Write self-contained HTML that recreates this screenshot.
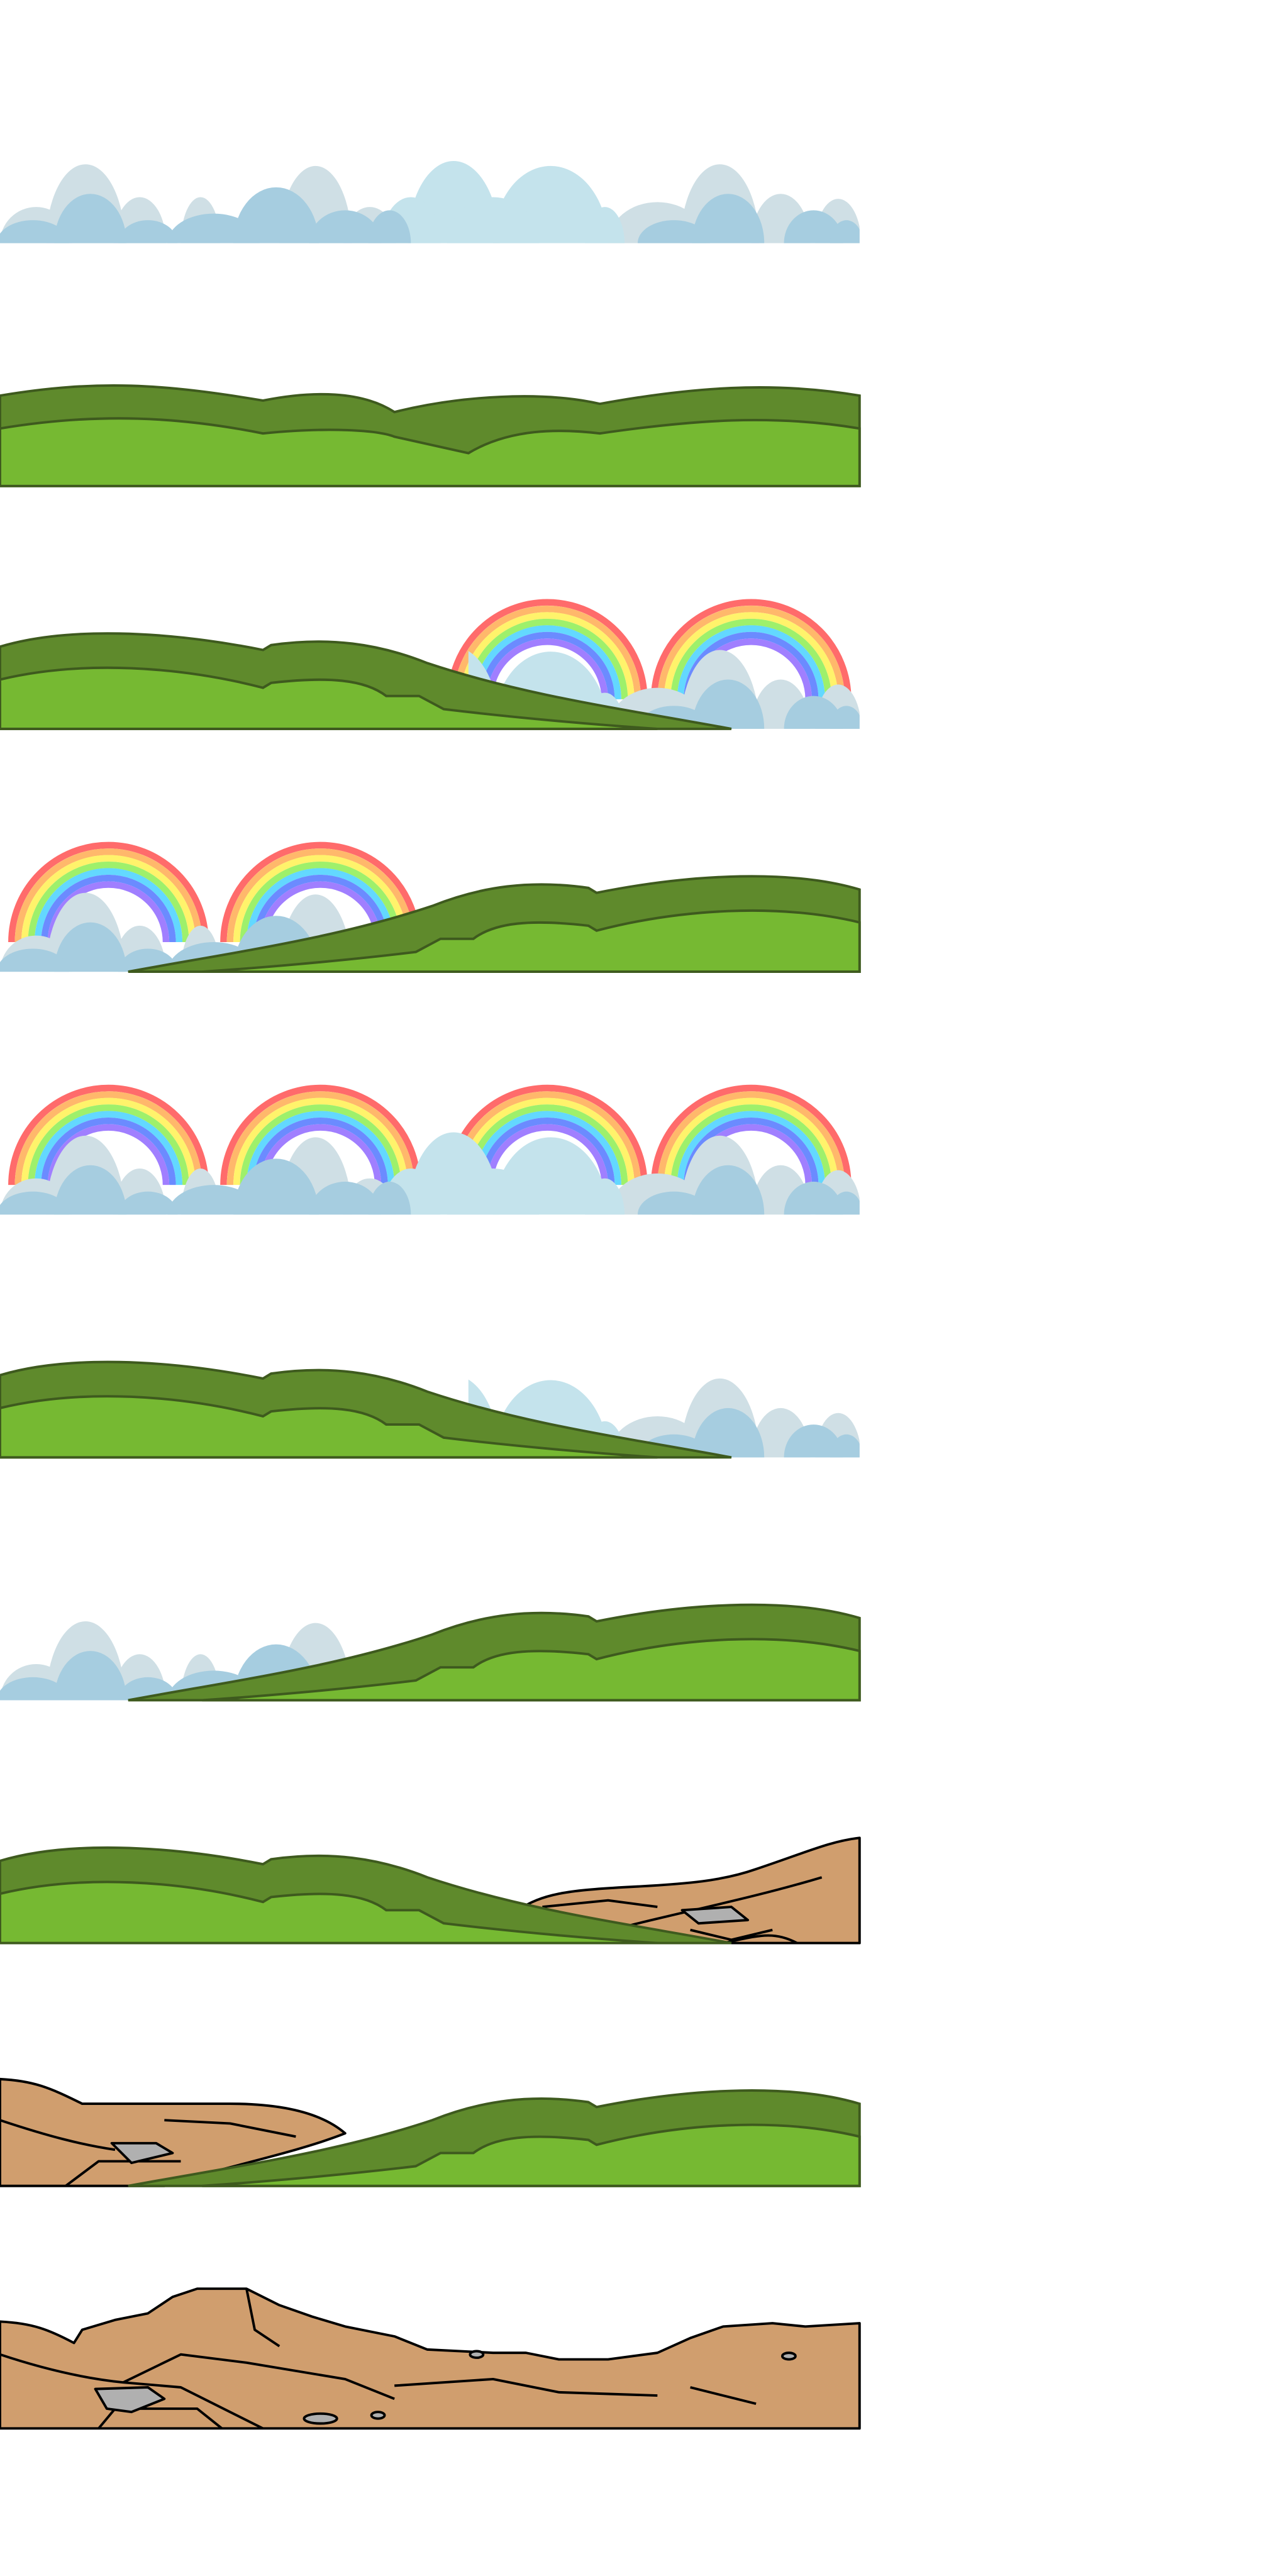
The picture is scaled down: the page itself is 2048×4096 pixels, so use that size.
<!DOCTYPE html>
<html><head><meta charset="utf-8"><style>
html,body{margin:0;padding:0;background:#fff}
svg{display:block}
</style></head><body>
<svg width="2048" height="4096" viewBox="0 0 768 1536" xmlns="http://www.w3.org/2000/svg">
<defs>
  <clipPath id="tile"><rect x="0" y="-160" width="523" height="160"/></clipPath>
  <clipPath id="rightclip"><rect x="285" y="-160" width="238" height="160"/></clipPath>
  <clipPath id="leftclip"><rect x="0" y="-160" width="240" height="160"/></clipPath>
  <g id="clouds">
    <g fill="#cfdfe5">
      <ellipse cx="52" cy="0" rx="24" ry="48"/>
      <ellipse cx="22" cy="0" rx="22" ry="22"/>
      <ellipse cx="85" cy="0" rx="16" ry="28"/>
      <ellipse cx="122" cy="0" rx="12" ry="28"/>
      <ellipse cx="192" cy="0" rx="22" ry="47"/>
      <ellipse cx="225" cy="0" rx="16" ry="22"/>
      <ellipse cx="438" cy="0" rx="24" ry="48"/>
      <ellipse cx="400" cy="0" rx="30" ry="25"/>
      <ellipse cx="475" cy="0" rx="18" ry="30"/>
      <ellipse cx="510" cy="0" rx="14" ry="27"/>
    </g>
    <g fill="#c4e3ec">
      <ellipse cx="276" cy="0" rx="28" ry="50"/>
      <ellipse cx="250" cy="0" rx="18" ry="28"/>
      <ellipse cx="335" cy="0" rx="35" ry="47"/>
      <ellipse cx="300" cy="0" rx="28" ry="28"/>
      <ellipse cx="368" cy="0" rx="12" ry="22"/>
    </g>
    <g fill="#a6cde0">
      <ellipse cx="55" cy="0" rx="22" ry="30"/>
      <ellipse cx="20" cy="0" rx="22" ry="14"/>
      <ellipse cx="90" cy="0" rx="18" ry="14"/>
      <ellipse cx="168" cy="0" rx="26" ry="34"/>
      <ellipse cx="130" cy="0" rx="28" ry="18"/>
      <ellipse cx="210" cy="0" rx="22" ry="20"/>
      <ellipse cx="237" cy="0" rx="13" ry="20"/>
      <ellipse cx="443" cy="0" rx="22" ry="30"/>
      <ellipse cx="410" cy="0" rx="22" ry="14"/>
      <ellipse cx="495" cy="0" rx="18" ry="20"/>
      <ellipse cx="515" cy="0" rx="10" ry="14"/>
    </g>
  </g>
  <g id="rainbow" fill="none" stroke-width="4">
    <path d="M-59,0 A59,59 0 0 1 59,0" stroke="#ff6b6b"/>
    <path d="M-55,0 A55,55 0 0 1 55,0" stroke="#ffb86b"/>
    <path d="M-51,0 A51,51 0 0 1 51,0" stroke="#fff36b"/>
    <path d="M-47,0 A47,47 0 0 1 47,0" stroke="#9ef06b"/>
    <path d="M-43,0 A43,43 0 0 1 43,0" stroke="#63d8ff"/>
    <path d="M-39,0 A39,39 0 0 1 39,0" stroke="#6b8bff"/>
    <path d="M-35,0 A35,35 0 0 1 35,0" stroke="#a07fff"/>
  </g>
  <g id="hills-full" stroke="#3e5a1e" stroke-width="1.5">
    <path fill="#5f8a2c" d="M0,-55 C60,-65 100,-62 160,-52 C190,-58 220,-58 240,-45 C280,-55 330,-58 365,-50 C420,-60 470,-64 523,-55 V0 H0 Z"/>
    <path fill="#76b932" d="M0,-35 C60,-45 110,-42 160,-32 C200,-36 230,-34 240,-30 L285,-20 C310,-35 340,-35 365,-32 C420,-40 470,-44 523,-35 V0 H0 Z"/>
  </g>
  <g id="hills-slope" stroke="#3e5a1e" stroke-width="1.5">
    <path fill="#5f8a2c" d="M0,-50 C40,-62 100,-60 160,-48 L165,-51 C200,-56 230,-52 260,-40 C320,-20 380,-12 445,0 H0 Z"/>
    <path fill="#76b932" d="M0,-30 C50,-42 110,-38 160,-25 L165,-28 C200,-32 222,-30 235,-20 L255,-20 L270,-12 C320,-6 370,-2 400,0 H0 Z"/>
  </g>
  <g id="rocks-right" stroke="#000" stroke-width="1.5" stroke-linejoin="round">
    <path fill="#d09e6e" d="M310,0 L315,-20 C330,-30 345,-32 380,-34 C420,-36 440,-38 460,-45 C490,-55 505,-62 523,-64 V0 Z"/>
    <path fill="none" d="M330,-22 L370,-26 L400,-22 M380,-10 C420,-20 460,-28 500,-40 M420,-8 L445,-2 L470,-8 M440,0 C460,-4 470,-8 485,0"/>
    <path fill="#b0b0b0" d="M415,-20 L445,-22 L455,-14 L425,-12 Z"/>
  </g>
  <g id="rocks-left" stroke="#000" stroke-width="1.5" stroke-linejoin="round">
    <path fill="#d09e6e" d="M0,-65 C20,-64 30,-60 50,-50 C80,-50 110,-50 140,-50 C170,-50 195,-45 210,-32 C180,-20 130,-10 100,0 H0 Z"/>
    <path fill="none" d="M0,-40 C30,-30 50,-25 70,-22 M40,0 L60,-15 L110,-15 M100,-40 L140,-38 L180,-30"/>
    <path fill="#b0b0b0" d="M68,-26 L95,-26 L105,-20 L80,-14 Z"/>
  </g>
</defs>

<g transform="translate(0,145) scale(0.98)">
  <use href="#clouds" clip-path="url(#tile)"/>
</g>
<g transform="translate(0,289.8) scale(0.98)">
  <use href="#hills-full"/>
</g>
<g transform="translate(0,434.6) scale(0.98)">
  <use href="#rainbow" x="333" y="-18"/>
  <use href="#rainbow" x="457" y="-18"/>
  <g clip-path="url(#tile)"><g clip-path="url(#rightclip)"><use href="#clouds"/></g></g>
  <use href="#hills-slope"/>
</g>
<g transform="translate(0,579.4) scale(0.98)">
  <use href="#rainbow" x="66" y="-18"/>
  <use href="#rainbow" x="195" y="-18"/>
  <g clip-path="url(#leftclip)"><use href="#clouds"/></g>
  <g transform="translate(523,0) scale(-1,1)"><use href="#hills-slope"/></g>
</g>
<g transform="translate(0,724.2) scale(0.98)">
  <use href="#rainbow" x="66" y="-18"/>
  <use href="#rainbow" x="195" y="-18"/>
  <use href="#rainbow" x="333" y="-18"/>
  <use href="#rainbow" x="457" y="-18"/>
  <use href="#clouds" clip-path="url(#tile)"/>
</g>
<g transform="translate(0,869) scale(0.98)">
  <g clip-path="url(#tile)"><g clip-path="url(#rightclip)"><use href="#clouds"/></g></g>
  <use href="#hills-slope"/>
</g>
<g transform="translate(0,1013.8) scale(0.98)">
  <g clip-path="url(#leftclip)"><use href="#clouds"/></g>
  <g transform="translate(523,0) scale(-1,1)"><use href="#hills-slope"/></g>
</g>
<g transform="translate(0,1158.6) scale(0.98)">
  <use href="#rocks-right"/>
  <use href="#hills-slope"/>
</g>
<g transform="translate(0,1303.4) scale(0.98)">
  <use href="#rocks-left"/>
  <g transform="translate(523,0) scale(-1,1)"><use href="#hills-slope"/></g>
</g>
<g transform="translate(0,1448) scale(0.98)" stroke="#000" stroke-width="1.5" stroke-linejoin="round">
  <path fill="#d09e6e" d="M0,-65 C20,-64 30,-60 45,-52 L50,-60 L70,-66 L90,-70 L105,-80 L120,-85 L150,-85 L170,-75 L190,-68 L210,-62 L240,-56 L260,-48 L300,-46 L320,-46 L340,-42 L370,-42 L400,-46 L420,-55 L440,-62 L470,-64 L490,-62 L523,-64 V0 H0 Z"/>
  <path fill="none" d="M0,-45 C30,-35 55,-30 75,-28 L110,-25 L140,-10 L160,0 M60,0 L70,-12 L120,-12 L135,0 M75,-28 L110,-45 L150,-40 L210,-30 L240,-18 M150,-85 L155,-60 L170,-50 M240,-26 L300,-30 L340,-22 L400,-20 M420,-25 L460,-15"/>
  <path fill="#b0b0b0" d="M58,-24 L90,-25 L100,-18 L80,-10 L65,-12 Z"/>
  <ellipse fill="#b0b0b0" cx="195" cy="-6" rx="10" ry="3"/>
  <ellipse fill="#b0b0b0" cx="290" cy="-45" rx="4" ry="2"/>
  <ellipse fill="#b0b0b0" cx="480" cy="-44" rx="4" ry="2"/>
  <ellipse fill="#b0b0b0" cx="230" cy="-8" rx="4" ry="2"/>
</g>
</svg>
</body></html>
